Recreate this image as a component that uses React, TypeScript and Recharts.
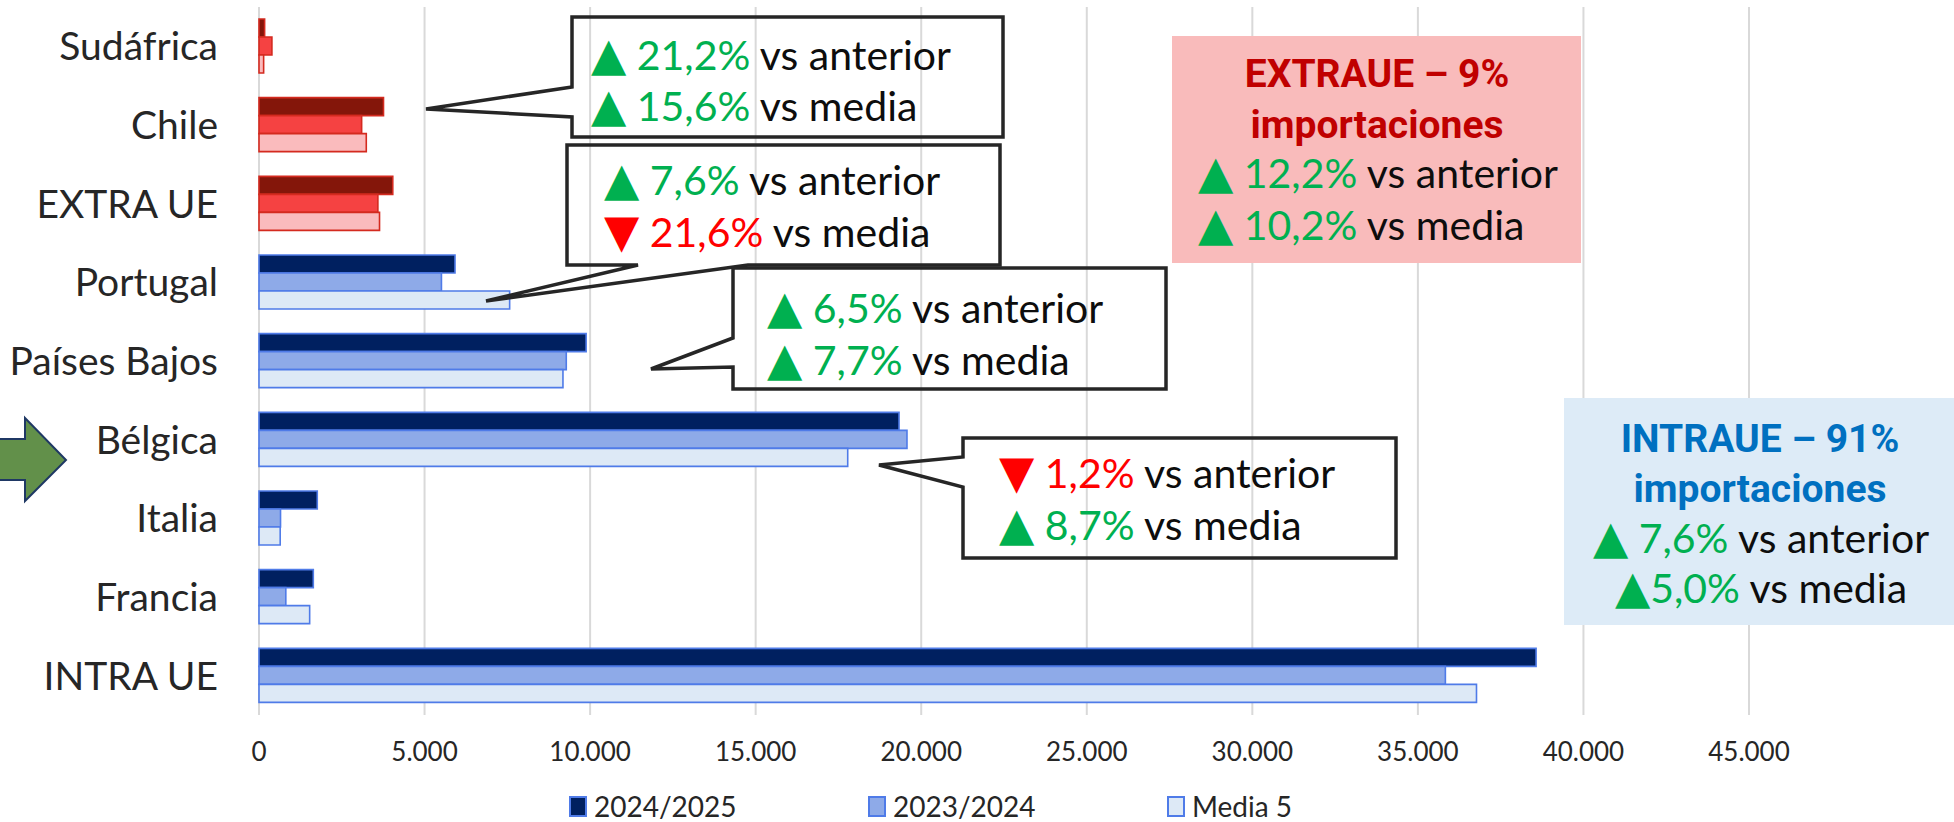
import React from 'react';
import { BarChart, Bar, XAxis, YAxis, CartesianGrid, Cell, Legend } from 'recharts';

const categories = ['Sudáfrica', 'Chile', 'EXTRA UE', 'Portugal', 'Países Bajos', 'Bélgica', 'Italia', 'Francia', 'INTRA UE'];
const extraUeCategories = ['Sudáfrica', 'Chile', 'EXTRA UE'];
const values2425 = [170, 3760, 4040, 5920, 9880, 19330, 1760, 1640, 38570];
const values2324 = [390, 3100, 3590, 5510, 9280, 19570, 650, 810, 35830];
const valuesMedia5 = [140, 3240, 3640, 7570, 9180, 17780, 640, 1530, 36770];
const seriesNames = ['2024/2025', '2023/2024', 'Media 5'];
const xTicks = [0, 5000, 10000, 15000, 20000, 25000, 30000, 35000, 40000, 45000];

const blueFills = ['#002060', '#8EAAE8', '#DDE9F6'];
const blueStroke = '#4F7BE8';
const redFills = ['#84160A', '#F54242', '#FABBBD'];
const redStroke = '#D42A1F';

const data = categories.map((name, i) => ({
  name,
  s0: values2425[i],
  s1: values2324[i],
  s2: valuesMedia5[i],
}));

const FONT = 'Lato, "Open Sans", sans-serif';
const GREEN = '#00B050';
const RED = '#FF0000';
const TXT = '#0D0D0D';

const fmt = (n: number) => String(n).replace(/\B(?=(\d{3})+(?!\d))/g, '.');

type Part = { t: string; c: string; sym?: boolean };

const Line = ({ x, y, parts, anchor = 'start', size = 41 }: { x: number; y: number; parts: Part[]; anchor?: string; size?: number }) => (
  <text x={x} y={y} textAnchor={anchor as any} fontFamily={FONT} fontSize={size}>
    {parts.map((p, i) => (
      <tspan key={i} fill={p.c} fontFamily={p.sym ? '"DejaVu Sans", sans-serif' : FONT} fontSize={p.sym ? size * 1.12 : size}>
        {p.t}
      </tspan>
    ))}
  </text>
);

const up = (pct: string, rest: string, gap = ' '): Part[] => [
  { t: '▲', c: GREEN, sym: true },
  { t: gap + pct, c: GREEN },
  { t: ' ' + rest, c: TXT },
];
const down = (pct: string, rest: string): Part[] => [
  { t: '▼', c: RED, sym: true },
  { t: ' ' + pct, c: RED },
  { t: ' ' + rest, c: TXT },
];

const LegendContent = () => (
  <div style={{ position: 'relative', width: 1954, height: 40, fontFamily: FONT, fontSize: 28, color: '#262626' }}>
    {seriesNames.map((n, i) => (
      <div key={n} style={{ position: 'absolute', left: 569 + i * 299, top: 0, display: 'flex', alignItems: 'center', height: 40 }}>
        <span style={{ display: 'inline-block', width: 14, height: 17, background: blueFills[i], border: `2px solid ${blueStroke}`, marginRight: 7 }} />
        <span style={{ lineHeight: '40px', whiteSpace: 'nowrap' }}>{n}</span>
      </div>
    ))}
  </div>
);

export default function App() {
  const boxStroke = { fill: 'none', stroke: '#262626', strokeWidth: 3.5, strokeLinejoin: 'miter' as const };
  const titleProps = { textAnchor: 'middle' as const, fontFamily: 'Roboto, sans-serif', fontWeight: 700, fontSize: 39 };
  return (
    <div style={{ position: 'relative', width: 1954, height: 822, background: '#fff', overflow: 'hidden' }}>
      <style>{'body{margin:0;background:#fff}'}</style>
      <BarChart
        width={1954}
        height={822}
        data={data}
        layout="vertical"
        margin={{ top: 7, right: 205, left: 0, bottom: 67 }}
        barGap={0}
        barSize={18}
      >
        <CartesianGrid horizontal={false} vertical stroke="#D9D9D9" strokeWidth={2} />
        <XAxis
          type="number"
          domain={[0, 45000]}
          ticks={xTicks}
          tickFormatter={fmt}
          axisLine={false}
          tickLine={false}
          tickSize={0}
          tickMargin={28}
          height={40}
          interval={0}
          tick={{ fontFamily: FONT, fontSize: 26, fill: '#262626' }}
        />
        <YAxis
          type="category"
          dataKey="name"
          width={259}
          axisLine={false}
          tickLine={false}
          tickSize={0}
          tickMargin={41}
          interval={0}
          tick={{ fontFamily: FONT, fontSize: 39, fill: '#262626' }}
        />
        {['s0', 's1', 's2'].map((k, si) => (
          <Bar key={k} dataKey={k} name={seriesNames[si]} isAnimationActive={false} strokeWidth={1.6}>
            {categories.map((c) => {
              const ext = extraUeCategories.includes(c);
              return <Cell key={c} fill={ext ? redFills[si] : blueFills[si]} stroke={ext ? redStroke : blueStroke} />;
            })}
          </Bar>
        ))}
        <Legend
          layout="horizontal"
          verticalAlign="middle"
          align="center"
          content={() => <LegendContent />}
          wrapperStyle={{ top: 786, left: 0, width: 1954, height: 40 }}
        />
      </BarChart>
      <svg width={1954} height={822} style={{ position: 'absolute', left: 0, top: 0, pointerEvents: 'none' }}>
        <path d="M-5,439 L25,439 L25,418 L66,460 L25,501 L25,480 L-5,480 Z" fill="#62904A" stroke="#1F3864" strokeWidth={2} />

        <path d="M572,17 L1003,17 L1003,137 L572,137 L572,117 L426,109 L572,87 Z" {...boxStroke} />
        <Line x={591} y={70} parts={up('21,2%', 'vs anterior')} />
        <Line x={591} y={121} parts={up('15,6%', 'vs media')} />

        <path d="M567,145 L1000,145 L1000,265 L748,265 L486,301 L638,265 L567,265 Z" {...boxStroke} />
        <Line x={604} y={195} parts={up('7,6%', 'vs anterior')} />
        <Line x={604} y={247} parts={down('21,6%', 'vs media')} />

        <path d="M733,268 L1166,268 L1166,389 L733,389 L733,367 L651,369 L733,338 Z" {...boxStroke} />
        <Line x={767} y={323} parts={up('6,5%', 'vs anterior')} />
        <Line x={767} y={375} parts={up('7,7%', 'vs media')} />

        <path d="M963,438 L1396,438 L1396,558 L963,558 L963,487 L879,465 L963,457 Z" {...boxStroke} />
        <Line x={999} y={488} parts={down('1,2%', 'vs anterior')} />
        <Line x={999} y={540} parts={up('8,7%', 'vs media')} />

        <rect x={1172} y={36} width={409} height={227} fill="#F9BBBB" />
        <text x={1377} y={87} {...titleProps} fill="#C00000">EXTRAUE – 9%</text>
        <text x={1377} y={138} {...titleProps} fill="#C00000">importaciones</text>
        <Line x={1198} y={188} parts={up('12,2%', 'vs anterior')} />
        <Line x={1198} y={240} parts={up('10,2%', 'vs media')} />

        <rect x={1564} y={398} width={400} height={227} fill="#DDEBF7" />
        <text x={1760} y={452} {...titleProps} fill="#0070C0">INTRAUE – 91%</text>
        <text x={1760} y={502} {...titleProps} fill="#0070C0">importaciones</text>
        <Line x={1761} y={553} anchor="middle" parts={up('7,6%', 'vs anterior')} />
        <Line x={1761} y={603} anchor="middle" parts={up('5,0%', 'vs media', '')} />
      </svg>
    </div>
  );
}
